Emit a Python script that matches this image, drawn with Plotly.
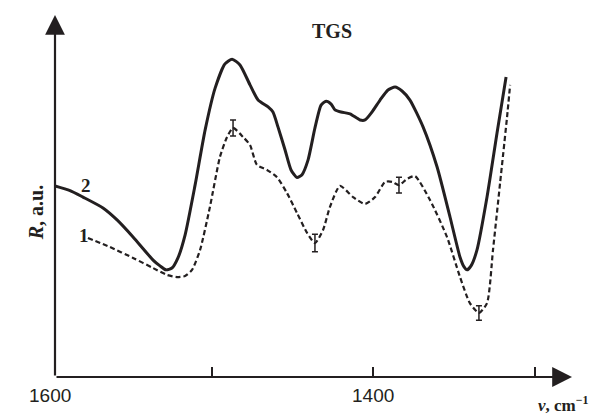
import plotly.graph_objects as go

# Curve 2 (solid)
x2 = [1597, 1587.7, 1579.7, 1567.3, 1558.6, 1548.7, 1536.3, 1532.0, 1528.3, 1524.6, 1520.9, 1516.5,
      1510.3, 1504.1, 1497.9, 1491.8, 1487.4, 1482.5, 1476.3, 1471.3, 1465.1, 1462.1, 1459.0, 1454.6,
      1450.9, 1447.2, 1444.1, 1440.4, 1436.1, 1432.3, 1429.2, 1426.1, 1423.7, 1419.9, 1414.4, 1408.2,
      1405.1, 1400.8, 1395.8, 1390.9, 1386.5, 1382.2, 1377.3, 1369.2, 1360.5, 1352.5, 1346.3, 1343.8,
      1342.0, 1339.5, 1335.8, 1329.6, 1323.4, 1317.8]
y2 = [5.28, 5.15, 4.97, 4.67, 4.34, 3.87, 3.23, 3.07, 2.96, 3.01, 3.29, 3.92,
      5.30, 6.82, 7.98, 8.65, 8.78, 8.62, 8.07, 7.65, 7.46, 7.32, 6.91, 6.27,
      5.72, 5.51, 5.59, 5.99, 6.88, 7.51, 7.62, 7.54, 7.38, 7.32, 7.27, 7.10,
      7.10, 7.32, 7.65, 7.93, 8.01, 7.90, 7.65, 6.91, 5.80, 4.42, 3.31, 3.04,
      2.96, 3.07, 3.51, 4.97, 6.74, 8.29]

# Curve 1 (dashed)
x1 = [1576.6, 1563.0, 1548.7, 1536.3, 1527.7, 1521.5, 1516.5, 1512.2, 1507.2, 1501.1, 1494.9, 1490.5,
      1486.8, 1480.6, 1476.3, 1472.0, 1465.8, 1459.6, 1453.4, 1447.2, 1441.0, 1436.1, 1431.1, 1426.8,
      1420.6, 1412.5, 1405.1, 1398.9, 1392.7, 1388.4, 1384.1, 1379.1, 1374.2, 1364.9, 1354.4, 1346.3,
      1340.2, 1334.6, 1329.6, 1325.9, 1321.5, 1317.2, 1315.3]
y1 = [3.84, 3.59, 3.29, 3.01, 2.82, 2.76, 2.79, 2.96, 3.51, 4.70, 6.08, 6.63,
      6.88, 6.63, 6.41, 5.86, 5.72, 5.52, 5.08, 4.53, 3.98, 3.70, 4.06, 4.70,
      5.28, 4.97, 4.78, 4.97, 5.39, 5.39, 5.30, 5.47, 5.55, 4.89, 3.87, 2.76,
      2.04, 1.77, 2.04, 3.51, 5.36, 7.18, 8.07]

# Error bars on curve 1
ex = [1486.8, 1436.1, 1384.1, 1334.6]
ey = [6.88, 3.70, 5.30, 1.77]
ee = [0.22, 0.24, 0.22, 0.20]

tick_vals = [1500, 1400, 1300]
label_vals = [1600, 1400]
label_text = ["1600", "1400"]

INK = "#231f20"
SERIF = "Liberation Serif, Times New Roman, serif"
SANS = "Liberation Sans, Arial, sans-serif"

XMIN, XMAX = 1597, 1277
PLOT_W = 593 - 55 - 21

fig = go.Figure()
fig.add_trace(go.Scatter(x=x2, y=y2, mode="lines",
                         line=dict(color=INK, width=3, shape="spline", smoothing=0.6),
                         hoverinfo="skip", showlegend=False))
fig.add_trace(go.Scatter(x=x1, y=y1, mode="lines",
                         line=dict(color=INK, width=2.2, dash="5px,3px", shape="spline", smoothing=0.6),
                         hoverinfo="skip", showlegend=False))
fig.add_trace(go.Scatter(x=ex, y=ey, mode="markers",
                         marker=dict(size=1, color=INK),
                         error_y=dict(type="data", array=ee, visible=True, color=INK,
                                      thickness=1.5, width=3),
                         hoverinfo="skip", showlegend=False))

fig.update_layout(
    width=593, height=414,
    margin=dict(l=55, r=21, t=15, b=37),
    paper_bgcolor="white", plot_bgcolor="white",
    xaxis=dict(range=[XMIN, XMAX], showgrid=False, zeroline=False, showline=False,
               tickvals=tick_vals, ticktext=["", "", ""], ticks="inside", ticklen=10,
               tickwidth=1.5, tickcolor=INK),
    yaxis=dict(range=[0, 10], showgrid=False, zeroline=False, showline=False,
               showticklabels=False, ticks=""),
)

# Axis arrows
fig.add_annotation(x=XMAX, y=0, ax=XMIN, ay=0, xref="x", yref="y", axref="x", ayref="y",
                   showarrow=True, arrowhead=2, arrowsize=1.8, arrowwidth=2.2, arrowcolor=INK, text="")
fig.add_annotation(x=XMIN, y=10, ax=XMIN, ay=0, xref="x", yref="y", axref="x", ayref="y",
                   showarrow=True, arrowhead=2, arrowsize=1.8, arrowwidth=2.2, arrowcolor=INK, text="")

for v, t in zip(label_vals, label_text):
    px = (XMIN - v) / (XMIN - XMAX)
    fig.add_annotation(x=px, y=0, xref="paper", yref="paper", text=t, showarrow=False,
                       xanchor="center", yanchor="top", yshift=-6,
                       font=dict(family=SANS, size=19, color=INK))

fig.add_annotation(x=0.536, y=1.0, xref="paper", yref="paper", text="<b>TGS</b>", showarrow=False,
                   yanchor="middle", yshift=-16, font=dict(family=SERIF, size=20, color=INK))
fig.add_annotation(x=-0.062, y=0.455, xref="paper", yref="paper", text="<b><i>R</i>, a.u.</b>",
                   textangle=-90, showarrow=False, font=dict(family=SERIF, size=20, color=INK))
fig.add_annotation(x=0.0465, y=0.53, xref="paper", yref="paper", text="<b>2</b>", showarrow=False,
                   font=dict(family=SERIF, size=19, color=INK))
fig.add_annotation(x=0.042, y=0.39, xref="paper", yref="paper", text="<b>1</b>", showarrow=False,
                   font=dict(family=SERIF, size=19, color=INK))
fig.add_annotation(x=(591 - 55) / PLOT_W, y=-0.04, xref="paper", yref="paper",
                   text="<b><i>ν</i>, cm<sup>−1</sup></b>", showarrow=False,
                   xanchor="right", yanchor="top",
                   font=dict(family=SERIF, size=17, color=INK))

fig.write_html("out.html")
